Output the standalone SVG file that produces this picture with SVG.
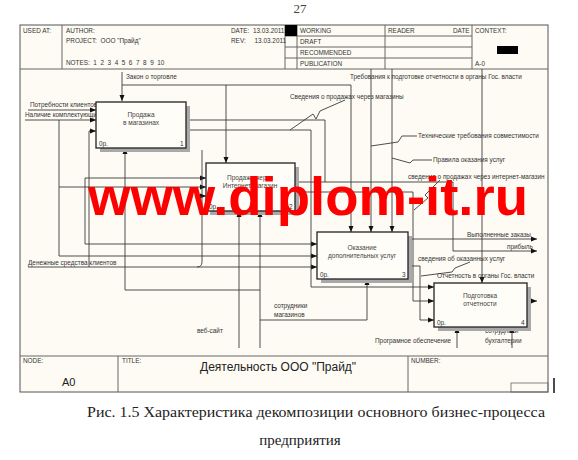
<svg xmlns="http://www.w3.org/2000/svg" width="578" height="460" viewBox="0 0 578 460">
<style>
.t{font-family:"Liberation Sans",Arial,sans-serif;font-size:6.4px;fill:#333;white-space:pre}
.ln{fill:none;stroke:#3a3a3a;stroke-width:0.9;stroke-linejoin:round}
.fr{fill:none;stroke:#666;stroke-width:1}
.box{fill:#fffdf8;stroke:#222;stroke-width:1.3}
.sh{fill:#a9a9a9}
.bt{font-family:"Liberation Sans",Arial,sans-serif;font-size:6.5px;fill:#444;text-anchor:middle}
.cap{font-family:"Liberation Serif","Times New Roman",serif;font-size:15px;fill:#222}
.wm{font-family:"Liberation Sans",Arial,sans-serif;font-size:54.5px;font-weight:bold;fill:#ff0000}
</style>
<defs>
<marker id="a" viewBox="0 0 6 6" refX="6" refY="3" markerWidth="6" markerHeight="6" orient="auto" markerUnits="userSpaceOnUse"><path d="M0,0.5 L6,3 L0,5.5 z" fill="#111"/></marker>
</defs>
<rect width="578" height="460" fill="#ffffff"/>
<text x="300" y="13" text-anchor="middle" font-family="Liberation Serif,serif" font-size="13" fill="#444">27</text>
<g id="frame">
<rect x="20" y="25" width="528" height="367" fill="#fdfbf4" stroke="#555" stroke-width="1"/>
<line x1="20" y1="69" x2="548" y2="69" class="fr"/>
<line x1="62" y1="25" x2="62" y2="69" class="fr"/>
<line x1="285" y1="25" x2="285" y2="69" class="fr"/>
<line x1="297" y1="25" x2="297" y2="69" class="fr"/>
<line x1="385" y1="25" x2="385" y2="69" class="fr"/>
<line x1="472" y1="25" x2="472" y2="69" class="fr"/>
<line x1="285" y1="36" x2="472" y2="36" class="fr"/>
<line x1="285" y1="47" x2="472" y2="47" class="fr"/>
<line x1="285" y1="58" x2="472" y2="58" class="fr"/>
<rect x="285" y="25" width="12" height="11" fill="#000"/>
<rect x="497" y="46" width="21" height="8" fill="#000"/>
<text class="t" x="23" y="33">USED AT:</text>
<text class="t" x="66" y="33">AUTHOR:</text>
<text class="t" x="66" y="43">PROJECT:  ООО "Прайд"</text>
<text class="t" x="66" y="65">NOTES:  1  2  3  4  5  6  7  8  9  10</text>
<text class="t" x="231" y="33">DATE:  13.03.2011</text>
<text class="t" x="231" y="43">REV:     13.03.2011</text>
<text class="t" x="300" y="33">WORKING</text>
<text class="t" x="300" y="44">DRAFT</text>
<text class="t" x="300" y="55">RECOMMENDED</text>
<text class="t" x="300" y="66">PUBLICATION</text>
<text class="t" x="388" y="33">READER</text>
<text class="t" x="453" y="33">DATE</text>
<text class="t" x="475" y="33">CONTEXT:</text>
<text class="t" x="475" y="66">A-0</text>
<line x1="20" y1="356" x2="548" y2="356" class="fr"/>
<line x1="118" y1="356" x2="118" y2="392" class="fr"/>
<line x1="408" y1="356" x2="408" y2="392" class="fr"/>
<rect x="511" y="383" width="37" height="9" fill="none" stroke="#666" stroke-width="0.8"/>
<line x1="554" y1="378" x2="554" y2="393" stroke="#111" stroke-width="1.5"/>
<text class="t" x="23" y="363">NODE:</text>
<text x="62" y="386" font-family="Liberation Sans,sans-serif" font-size="11" fill="#222">A0</text>
<text class="t" x="122" y="363">TITLE:</text>
<text x="200" y="371" font-family="Liberation Sans,sans-serif" font-size="12" fill="#222">Деятельность ООО "Прайд"</text>
<text class="t" x="411" y="363">NUMBER:</text>
</g>
<g id="connectors">
<path class="ln" marker-end="url(#a)" d="M122,72 V101"/>
<path class="ln" marker-end="url(#a)" d="M122,85 H351 V232"/>
<path class="ln" marker-end="url(#a)" d="M226,85 V163"/>
<path class="ln" marker-end="url(#a)" d="M371,69 V232"/>
<path class="ln" marker-end="url(#a)" d="M392,69 V232"/>
<path class="ln" marker-end="url(#a)" d="M482,69 V283"/>
<path class="ln" d="M417,136 H402 L398,142 L371,146"/>
<path class="ln" d="M432,160 H413 L410,163 L392,158"/>
<path class="ln" marker-end="url(#a)" d="M28,110 H96"/>
<path class="ln" marker-end="url(#a)" d="M25,120 H96"/>
<path class="ln" marker-end="url(#a)" d="M59,120 V187 H206"/>
<path class="ln" marker-end="url(#a)" d="M59,187 V256 H317"/>
<path class="ln" marker-end="url(#a)" d="M85,178 H206"/>
<path class="ln" marker-end="url(#a)" d="M85,178 V244 H317"/>
<path class="ln" marker-end="url(#a)" d="M28,267 H317"/>
<path class="ln" marker-end="url(#a)" d="M89,267 V131 H96"/>
<path class="ln" marker-end="url(#a)" d="M202,150 V196 H206"/>
<path class="ln" d="M202,196 V262 Q202,267 197,267"/>
<path class="ln" d="M186,120 H325 V182 H453 V251"/>
<path class="ln" marker-end="url(#a)" d="M453,251 H537"/>
<path class="ln" d="M295,182 H325"/>
<path class="ln" marker-end="url(#a)" d="M186,130 H311 V287 H434"/>
<path class="ln" marker-end="url(#a)" d="M295,192 H413 V301 H434"/>
<path class="ln" marker-end="url(#a)" d="M408,239 H537"/>
<path class="ln" marker-end="url(#a)" d="M408,266 H420 V320 H434"/>
<path class="ln" marker-end="url(#a)" d="M527,301 H537"/>
<path class="ln" d="M290,130 L313,114 L316,119 L320,111 L345,100"/>
<path class="ln" d="M440,180 L425,195 L428,198 L414,210"/>
<path class="ln" d="M470,262 L455,268 L452,272 L421,276"/>
<path class="ln" marker-end="url(#a)" d="M260,348 V211"/>
<path class="ln" marker-end="url(#a)" d="M239,348 V211"/>
<path class="ln" marker-end="url(#a)" d="M260,290 H125 V148"/>
<path class="ln" marker-end="url(#a)" d="M260,320 H367 V279"/>
<path class="ln" marker-end="url(#a)" d="M457,348 V327"/>
<path class="ln" marker-end="url(#a)" d="M512,348 V327"/>
</g>
<g id="labels">
<text class="t" x="126" y="79">Закон о торговле</text>
<text class="t" x="350" y="79">Требования к подготовке отчетности в органы Гос. власти</text>
<text class="t" x="290" y="99">Сведения о продажах через магазины</text>
<text class="t" x="418" y="138">Технические требования совместимости</text>
<text class="t" x="433" y="162">Правила оказания услуг</text>
<text class="t" x="408" y="179">сведения о продажах через интернет-магазин</text>
<text class="t" x="30" y="107">Потребности клиентов</text>
<text class="t" x="25" y="117">Наличие комплектующих</text>
<text class="t" x="28" y="265">Денежные средства клиентов</text>
<text class="t" x="467" y="237">Выполненные заказы</text>
<text class="t" x="507" y="249">прибыль</text>
<text class="t" x="418" y="261">сведения об оказанных услуг</text>
<text class="t" x="437" y="278">Отчетность в органы Гос. власти</text>
<text class="t" x="274" y="308">сотрудники</text>
<text class="t" x="274" y="317">магазинов</text>
<text class="t" x="197" y="333">веб-сайт</text>
<text class="t" x="375" y="343">Програмное обеспечение</text>
<text class="t" x="485" y="333">сотрудники</text>
<text class="t" x="485" y="343">бухгалтерии</text>
</g>
<g id="box1">
<rect class="sh" x="100" y="106" width="90" height="46"/>
<rect class="box" x="96" y="102" width="90" height="46"/>
<text class="bt" x="141" y="117">Продажа</text>
<text class="bt" x="141" y="125">в магазинах</text>
<text class="t" x="99" y="146">0р.</text>
<text class="t" x="180" y="146">1</text>
</g>
<g id="box2">
<rect class="sh" x="210" y="167" width="89" height="48"/>
<rect class="box" x="206" y="163" width="89" height="48"/>
<text class="bt" x="250" y="180">Продажа через</text>
<text class="bt" x="250" y="188">Интернет-магазин</text>
<text class="t" x="209" y="209">0р.</text>
<text class="t" x="289" y="209">2</text>
</g>
<g id="box3">
<rect class="sh" x="321" y="236" width="91" height="47"/>
<rect class="box" x="317" y="232" width="91" height="47"/>
<text class="bt" x="362" y="250">Оказание</text>
<text class="bt" x="362" y="258">дополнительных услуг</text>
<text class="t" x="320" y="277">0р.</text>
<text class="t" x="402" y="277">3</text>
</g>
<g id="box4">
<rect class="sh" x="438" y="287" width="93" height="44"/>
<rect class="box" x="434" y="283" width="93" height="44"/>
<text class="bt" x="480" y="298">Подготовка</text>
<text class="bt" x="480" y="306">отчетности</text>
<text class="t" x="437" y="325">0р.</text>
<text class="t" x="521" y="325">4</text>
</g>
<text class="wm" x="88" y="215">www.diplom-it.ru</text>
<text class="cap" x="87" y="417" textLength="458" lengthAdjust="spacingAndGlyphs">Рис. 1.5 Характеристика декомпозиции основного бизнес-процесса</text>
<text class="cap" x="300" y="445" text-anchor="middle">предприятия</text>
</svg>
